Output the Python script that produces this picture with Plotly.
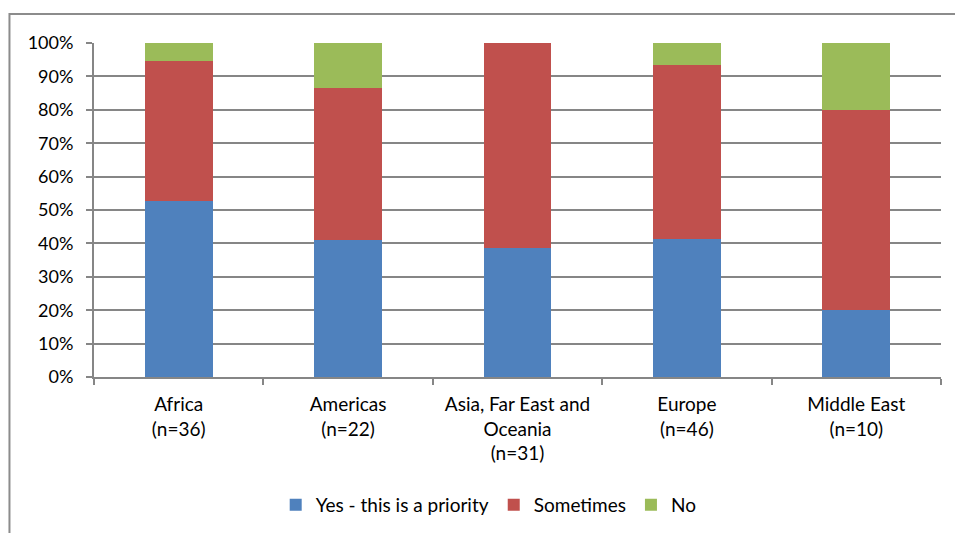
import plotly.graph_objects as go

regions = ["Africa<br>(n=36)", "Americas<br>(n=22)", "Asia, Far East and<br>Oceania<br>(n=31)",
           "Europe<br>(n=46)", "Middle East<br>(n=10)"]
yes_priority = [52.8, 40.9, 38.7, 41.3, 20.0]
sometimes = [41.7, 45.5, 61.3, 52.2, 60.0]
no = [5.6, 13.6, 0.0, 6.5, 20.0]

series = [
    ("Yes - this is a priority", yes_priority, "#4F81BD"),
    ("Sometimes", sometimes, "#C0504D"),
    ("No", no, "#9BBB59"),
]

fig = go.Figure()
for name, vals, color in series:
    fig.add_trace(go.Bar(x=regions, y=vals, name=name, marker_color=color,
                         marker_line_width=0, width=0.4))

grid = "#868686"
family = "Lato, 'Open Sans', sans-serif"
cat_font = dict(family=family, size=19, color="#000000")
val_font = dict(family=family, size=18, color="#000000")

fig.update_layout(
    barmode="stack",
    width=955, height=533,
    margin=dict(l=94, r=14, t=43, b=156, autoexpand=False),
    plot_bgcolor="white", paper_bgcolor="white",
    font=cat_font,
    showlegend=True,
    legend=dict(orientation="h", x=0.466, xanchor="center", y=-0.383, yanchor="middle",
                font=cat_font, itemwidth=30, traceorder="normal", itemsizing="constant"),
    xaxis=dict(type="category", showline=True, linecolor=grid, linewidth=2,
               ticks="outside", tickson="boundaries", ticklen=6, tickcolor=grid, tickwidth=2,
               showgrid=False, tickfont=cat_font, ticklabelstandoff=9, automargin=False),
    yaxis=dict(range=[0, 100], dtick=10, ticksuffix="%", showline=True, linecolor=grid,
               linewidth=2, ticks="outside", ticklen=6, tickcolor=grid, tickwidth=2,
               showgrid=True, gridcolor=grid, gridwidth=2, zeroline=False, tickfont=val_font,
               ticklabelstandoff=9, automargin=False),
    shapes=[dict(type="rect", xref="paper", yref="paper", x0=-0.0998, x1=1.2,
                 y0=-0.7, y1=1.0868, line=dict(color="#8C8C8C", width=2),
                 fillcolor="rgba(0,0,0,0)", layer="below")],
)

fig.write_html("out.html")
